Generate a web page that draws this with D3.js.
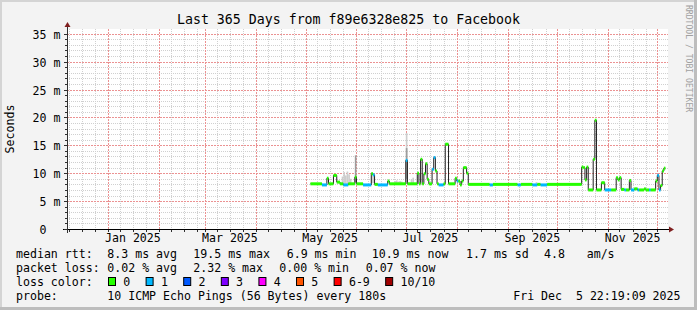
<!DOCTYPE html>
<html lang="en">
  <head>
    <meta charset="UTF-8" />
    <title>Last 365 Days from f89e6328e825 to Facebook</title>
    <style>
      body { margin: 0; background: #f3f3f3; }
      svg { display: block; font-family: "DejaVu Sans Mono", monospace; }
    </style>
  </head>
  <body>
    <svg id="svg" width="697" height="310"></svg>

    <script src="https://d3js.org/d3.v7.min.js"></script>
    <script>
      // time window of the graph
      const startTime = new Date(Date.UTC(2024, 11, 5, 22, 19, 9));
      const endTime = new Date(Date.UTC(2025, 11, 5, 22, 19, 9));

      const yTicks = [0, 5, 10, 15, 20, 25, 30, 35];
      const yMax = 35.85;
      const minorDays = [8, 16, 24];

      // median rtt (ms) per day, each value holds until the next date
      const medianDates = [
        "2025-05-04", "2025-05-11", "2025-05-14", "2025-05-15", "2025-05-18",
        "2025-05-20", "2025-05-22", "2025-05-24", "2025-05-27", "2025-05-31",
        "2025-06-01", "2025-06-05", "2025-06-10", "2025-06-11", "2025-06-12",
        "2025-06-14", "2025-06-20", "2025-06-21", "2025-07-01", "2025-07-02",
        "2025-07-08", "2025-07-09", "2025-07-10", "2025-07-11", "2025-07-12",
        "2025-07-13", "2025-07-14", "2025-07-15", "2025-07-17", "2025-07-18",
        "2025-07-19", "2025-07-20", "2025-07-21", "2025-07-24", "2025-07-25",
        "2025-07-27", "2025-07-31", "2025-08-01", "2025-08-02", "2025-08-03",
        "2025-08-04", "2025-08-05", "2025-08-07", "2025-08-08", "2025-08-21",
        "2025-08-23", "2025-09-07", "2025-09-09", "2025-09-16", "2025-09-19",
        "2025-09-21", "2025-09-25", "2025-10-16", "2025-10-17", "2025-10-18",
        "2025-10-19", "2025-10-20", "2025-10-23", "2025-10-24", "2025-10-25",
        "2025-10-28", "2025-10-30", "2025-11-03", "2025-11-06", "2025-11-07",
        "2025-11-08", "2025-11-09", "2025-11-11", "2025-11-12", "2025-11-14",
        "2025-11-15", "2025-11-17", "2025-11-19", "2025-11-20", "2025-11-23",
        "2025-11-24", "2025-11-26", "2025-11-27", "2025-11-30", "2025-12-01",
        "2025-12-02", "2025-12-03", "2025-12-04", "2025-12-05"
      ];
      const medianValues = [
        8.1, 7.9, 9.1, 8.1, 9.6,
        8.4, 8.1, 7.9, 8.1, 9.3,
        8.1, 7.9, 9.9, 9.7, 8.0,
        7.9, 8.6, 8.1, 12.3, 8.1,
        10.0, 8.1, 12.5, 8.1, 9.9,
        11.7, 8.9, 8.1, 10.7, 12.8,
        10.4, 8.1, 7.9, 8.1, 15.2,
        8.1, 9.1, 8.6, 8.6, 7.9,
        8.6, 11.0, 10.0, 8.0, 7.9,
        8.0, 7.9, 8.0, 7.9, 8.0,
        7.9, 8.0, 11.1, 11.0, 8.8,
        11.1, 7.0, 12.5, 19.5, 7.0,
        8.3, 7.0, 7.0, 9.2, 8.8,
        9.2, 7.1, 7.0, 7.0, 8.7,
        7.0, 7.2, 7.0, 7.0, 7.2,
        7.0, 7.0, 7.0, 8.6, 9.6,
        7.0, 7.8, 10.4, 10.9
      ];
      // packet loss bucket per day (index into lossColors)
      const medianLoss = [
        0, 1, 0, 0, 0,
        0, 0, 1, 0, 0,
        0, 1, 0, 1, 0,
        1, 0, 0, 1, 0,
        0, 0, 0, 0, 0,
        0, 0, 0, 1, 1,
        0, 0, 1, 0, 0,
        0, 0, 1, 0, 0,
        0, 0, 0, 0, 1,
        0, 1, 0, 1, 0,
        1, 0, 0, 0, 0,
        0, 0, 0, 0, 0,
        0, 1, 0, 0, 0,
        0, 0, 1, 0, 0,
        1, 0, 1, 0, 0,
        0, 1, 0, 0, 1,
        1, 0, 0, 0
      ];

      // smoke (spread of the pings) on the days where it shows
      const smokeDates = [
        "2025-05-23", "2025-05-24", "2025-05-25", "2025-05-26", "2025-05-27",
        "2025-05-28", "2025-05-31", "2025-06-10", "2025-06-11", "2025-06-24",
        "2025-06-25", "2025-06-26", "2025-06-27", "2025-06-28", "2025-07-01",
        "2025-07-01", "2025-07-04", "2025-07-05", "2025-09-18"
      ];
      const smokeLow = [
        8.1, 8.1, 8.1, 8.1, 8.1,
        8.1, 8.3, 8.2, 8.2, 8.1,
        8.1, 8.1, 8.1, 8.1, 8.1,
        9.0, 8.1, 8.1, 8.0
      ];
      const smokeHigh = [
        9.4, 10.2, 9.6, 10.3, 9.8,
        9.0, 13.2, 10.2, 9.8, 8.6,
        8.7, 8.5, 8.6, 8.5, 17.2,
        14.5, 8.9, 9.2, 8.4
      ];
      const smokeShade = [
        0, 0, 0, 0, 0,
        0, 1, 0, 0, 0,
        0, 0, 0, 0, 0,
        1, 0, 0, 0
      ];

      const lossColors = ["#26ff00", "#00b8ff", "#0059ff", "#7e00ff",
        "#ff00ff", "#ff5500", "#ff0000", "#a00000"];
      const lossLabels = ["0", "1", "2", "3", "4", "5", "6-9", "10/10"];

      const rttNames = ["avg", "max", "min", "now"];
      const rttValues = [8.3, 19.5, 6.9, 10.9];
      const rttSd = 1.7;
      const rttAmps = 4.8;
      const lossNames = ["avg", "max", "min", "now"];
      const lossValues = [0.02, 2.32, 0.0, 0.07];

      const W = 697, H = 310;
      const plotLeft = 67, plotRight = 667, plotTop = 29, plotBottom = 229;
      const cw = 6.97; // advance of one mono glyph
      const fs = 11.58;
      const px = (v) => Math.round(v) + 0.5;
      const parse = d3.utcParse("%Y-%m-%d");

      const svg = d3.select("#svg");

      const x = d3.scaleUtc().domain([startTime, endTime]).range([65.4, 665.4]);
      const y = d3.scaleLinear().domain([0, yMax]).range([plotBottom, plotTop]);

      // background, frame shading and canvas
      svg.append("rect").attr("width", W).attr("height", H).attr("fill", "#f3f3f3");
      svg.append("rect").attr("x", 0).attr("y", 0).attr("width", W).attr("height", 2).attr("fill", "#d4d4d4");
      svg.append("rect").attr("x", 0).attr("y", 0).attr("width", 2).attr("height", H).attr("fill", "#d4d4d4");
      svg.append("rect").attr("x", 0).attr("y", H - 3).attr("width", W).attr("height", 3).attr("fill", "#bdbdbd");
      svg.append("rect").attr("x", W - 3).attr("y", 0).attr("width", 3).attr("height", H).attr("fill", "#bdbdbd");
      svg.append("rect")
        .attr("x", plotLeft).attr("y", plotTop)
        .attr("width", plotRight - plotLeft + 1).attr("height", plotBottom - plotTop)
        .attr("fill", "#ffffff");

      // grid
      const majorMonths = d3.utcMonth.range(d3.utcMonth.ceil(startTime), endTime);
      const minorTimes = [];
      d3.utcMonth.range(d3.utcMonth.floor(startTime), endTime).forEach((m) => {
        minorDays.forEach((d) => minorTimes.push(d3.utcDay.offset(m, d - 1)));
      });
      const inPlot = (t) => x(t) > plotLeft + 0.5 && x(t) <= plotRight + 1;

      const grid = svg.append("g");
      const minorY = d3.range(1, 36).filter((v) => v % 5 !== 0 && y(v) >= plotTop);
      grid.selectAll(".hminor").data(minorY).enter().append("line")
        .attr("x1", plotLeft).attr("x2", plotRight + 1)
        .attr("y1", (d) => px(y(d))).attr("y2", (d) => px(y(d)))
        .attr("stroke", "#d0d0d0").attr("stroke-dasharray", "1,1");
      grid.selectAll(".vminor").data(minorTimes.filter(inPlot)).enter().append("line")
        .attr("x1", (d) => px(x(d))).attr("x2", (d) => px(x(d)))
        .attr("y1", plotTop).attr("y2", plotBottom)
        .attr("stroke", "#d0d0d0").attr("stroke-dasharray", "1,1");
      grid.selectAll(".hmajor").data(yTicks.filter((v) => v > 0)).enter().append("line")
        .attr("x1", plotLeft).attr("x2", plotRight + 1)
        .attr("y1", (d) => px(y(d))).attr("y2", (d) => px(y(d)))
        .attr("stroke", "#eb9292").attr("stroke-dasharray", "2,1");
      grid.selectAll(".vmajor").data(majorMonths.filter(inPlot)).enter().append("line")
        .attr("x1", (d) => px(x(d))).attr("x2", (d) => px(x(d)))
        .attr("y1", plotTop).attr("y2", plotBottom)
        .attr("stroke", "#eb9292").attr("stroke-dasharray", "2,1");

      // smoke
      svg.append("g").selectAll("rect").data(smokeDates).enter().append("rect")
        .attr("x", (d) => x(parse(d)))
        .attr("width", (d) => x(d3.utcDay.offset(parse(d), 1)) - x(parse(d)))
        .attr("y", (d, i) => y(smokeHigh[i]))
        .attr("height", (d, i) => y(smokeLow[i]) - y(smokeHigh[i]))
        .attr("fill", (d, i) => (smokeShade[i] ? "#9c9c9c" : "#cdcdcd"));

      // median line and loss colour bands
      const pts = medianDates.map((d, i) => [parse(d), medianValues[i], medianLoss[i]]);
      const linePts = pts.concat([[endTime, medianValues[medianValues.length - 1]]]);
      svg.append("path")
        .attr("d", d3.line().x((d) => x(d[0])).y((d) => y(d[1])).curve(d3.curveStepAfter)(linePts))
        .attr("fill", "none").attr("stroke", "#202020").attr("stroke-width", 1);

      svg.append("g").selectAll("rect").data(pts).enter().append("rect")
        .attr("x", (d) => x(d[0]))
        .attr("width", (d, i) => x(linePts[i + 1][0]) - x(d[0]))
        .attr("y", (d) => y(d[1]) - 1.5)
        .attr("height", 3)
        .attr("fill", (d) => lossColors[d[2]]);

      // axes, ticks and arrows
      const axes = svg.append("g").attr("stroke", "#303030");
      axes.append("line").attr("x1", plotLeft - 4).attr("x2", plotRight + 2)
        .attr("y1", plotBottom + 0.5).attr("y2", plotBottom + 0.5).attr("stroke", "#000");
      axes.append("line").attr("x1", plotLeft + 0.5).attr("x2", plotLeft + 0.5)
        .attr("y1", plotBottom + 4).attr("y2", plotTop - 2);
      axes.selectAll(".ytick").data(d3.range(0, 36)).enter().append("line")
        .attr("x1", (d) => (d % 5 === 0 ? plotLeft - 3 : plotLeft - 2)).attr("x2", plotLeft)
        .attr("y1", (d) => px(y(d))).attr("y2", (d) => px(y(d)));
      axes.selectAll(".xtick").data(minorTimes.concat(majorMonths).filter(inPlot)).enter().append("line")
        .attr("x1", (d) => px(x(d))).attr("x2", (d) => px(x(d)))
        .attr("y1", plotBottom + 1).attr("y2", plotBottom + 3);
      svg.append("path")
        .attr("d", `M${plotRight + 2},${plotBottom - 2.5}L${plotRight + 7},${plotBottom + 0.5}L${plotRight + 2},${plotBottom + 3.5}Z`)
        .attr("fill", "#7f1f1f");
      svg.append("path")
        .attr("d", `M${plotLeft - 2.5},${plotTop - 2}L${plotLeft + 0.5},${plotTop - 7}L${plotLeft + 3.5},${plotTop - 2}Z`)
        .attr("fill", "#7f1f1f");

      // tick labels
      const txt = svg.append("g").attr("font-size", fs).attr("fill", "#000");
      txt.selectAll(".ylab").data(yTicks).enter().append("text")
        .attr("x", (d) => (d === 0 ? 60.5 - 2 * cw : 60.5))
        .attr("y", (d) => px(y(d)) + 4)
        .attr("text-anchor", "end")
        .text((d) => (d === 0 ? "0" : d + " m"));
      const labelMonths = d3.utcMonth.every(2).range(d3.utcMonth.ceil(startTime), endTime);
      txt.selectAll(".xlab").data(labelMonths).enter().append("text")
        .attr("x", (d) => x(d3.utcDay.offset(d, 15)))
        .attr("y", 242)
        .attr("text-anchor", "middle")
        .text((d) => d3.utcFormat("%b %Y")(d));

      txt.append("text")
        .attr("transform", `translate(14,${(plotTop + plotBottom) / 2}) rotate(-90)`)
        .attr("text-anchor", "middle")
        .text("Seconds");

      svg.append("text")
        .attr("x", W / 2).attr("y", 24)
        .attr("text-anchor", "middle")
        .attr("font-size", 13.25)
        .text("Last 365 Days from f89e6328e825 to Facebook");

      svg.append("text")
        .attr("transform", "translate(685.5,5) rotate(90)")
        .attr("font-size", 8.1).attr("fill", "#a0a0a0")
        .text("RRDTOOL / TOBI OETIKER");

      // legend
      const f1 = d3.format(".1f"), f2 = d3.format(".2f");
      const rttX = [107.3, 193.3, 286.7, 371.7];
      const lossX = [107.3, 193.3, 279.3, 365.7];
      txt.append("text").attr("x", 16).attr("y", 258).text("median rtt:");
      rttValues.forEach((v, i) => {
        txt.append("text").attr("x", rttX[i]).attr("y", 258).text(`${f1(v)} ms ${rttNames[i]}`);
      });
      txt.append("text").attr("x", 466).attr("y", 258).text(`${f1(rttSd)} ms sd`);
      txt.append("text").attr("x", 544).attr("y", 258).text(f1(rttAmps));
      txt.append("text").attr("x", 586.7).attr("y", 258).text("am/s");

      txt.append("text").attr("x", 16).attr("y", 272).text("packet loss:");
      lossValues.forEach((v, i) => {
        txt.append("text").attr("x", lossX[i]).attr("y", 272).text(`${f2(v)} % ${lossNames[i]}`);
      });

      txt.append("text").attr("x", 16).attr("y", 286).text("loss color:");
      let cursor = 108;
      lossLabels.forEach((lab, i) => {
        svg.append("rect")
          .attr("x", cursor + 0.5).attr("y", 277.5)
          .attr("width", 7).attr("height", 8)
          .attr("fill", lossColors[i]).attr("stroke", "#000");
        txt.append("text").attr("x", cursor + 15.3).attr("y", 286).text(lab);
        cursor = cursor + 15.3 + (lab.length + 2.2) * cw;
      });

      txt.append("text").attr("x", 16).attr("y", 300).text("probe:");
      txt.append("text").attr("x", 107.3).attr("y", 300)
        .text("10 ICMP Echo Pings (56 Bytes) every 180s");
      txt.append("text").attr("x", 680.5).attr("y", 300)
        .attr("text-anchor", "end").style("white-space", "pre")
        .text("Fri Dec  5 22:19:09 2025");
    </script>
  </body>
</html>
